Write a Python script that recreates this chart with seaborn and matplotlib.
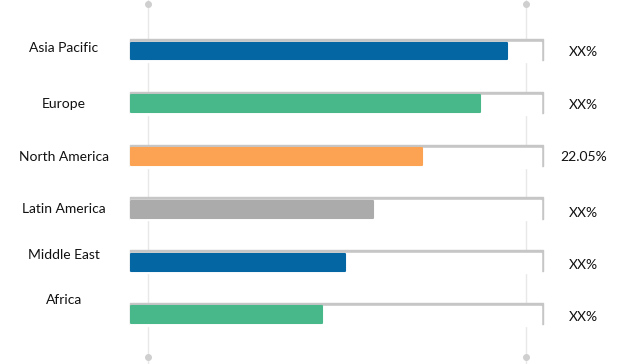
import matplotlib
matplotlib.use("Agg")
import matplotlib.pyplot as plt
import seaborn as sns
import pandas as pd

regions = ["Asia Pacific", "Europe", "North America", "Latin America", "Middle East", "Africa"]
shares = [91.0, 84.5, 70.5, 58.6, 51.8, 46.2]
value_labels = ["XX%", "XX%", "22.05%", "XX%", "XX%", "XX%"]
colors = ["#0466A3", "#48B88A", "#FBA352", "#ABABAB", "#0466A3", "#48B88A"]
track = [100] * len(regions)
grid_x = [4.1, 95.6]

sns.set_theme(style="white")
plt.rcParams['font.family'] = ['Lato', 'DejaVu Sans']

fig = plt.figure(figsize=(6.43, 3.64), dpi=100)
ax = fig.add_axes([0, 0, 1, 1])

df = pd.DataFrame({"region": regions, "share": shares})

# vertical guide lines with end dots
for gx in grid_x:
    ax.axvline(gx, color="#E8E8E8", lw=1, zorder=0)
    ax.plot([gx, gx], [-0.89, 5.8], 'o', color="#CFCFCF", ms=4, zorder=0, clip_on=False)

# tracks: gray shadow edge then white face
pos = list(range(len(regions)))
ax.barh([p - 0.025 for p in pos], track, height=0.40, left=-0.3, color="#C6C6C6",
        zorder=1, edgecolor="#C6C6C6", linewidth=1, joinstyle="round")
ax.barh([p + 0.02 for p in pos], [t - 0.45 for t in track], height=0.38, left=-0.3,
        color="white", zorder=1.5)

sns.barplot(data=df, y="region", x="share", hue="region", palette=colors, saturation=1,
            orient="h", width=0.32, legend=False, ax=ax, zorder=2)
for patch in ax.patches[-len(regions):]:
    patch.set_edgecolor(patch.get_facecolor())
    patch.set_linewidth(1.5)
    patch.set_joinstyle("round")

label_offsets = [-0.06, 0.0, 0.0, 0.0, -0.13, -0.28]
value_offsets = [0.02, 0.02, 0.0, 0.06, 0.06, 0.04]
for i, (r, v) in enumerate(zip(regions, value_labels)):
    ax.text(-16.3, i + label_offsets[i], r, ha="center", va="center", fontsize=10, color="#111111")
    ax.text(109.5, i + value_offsets[i], v, ha="center", va="center", fontsize=10, color="#111111")

ax.set_xlim(-131 / 4.13, (643 - 131) / 4.13)
ax.set_ylim(5.93, -0.966)
ax.axis("off")
fig.savefig("out.png", dpi=100)
